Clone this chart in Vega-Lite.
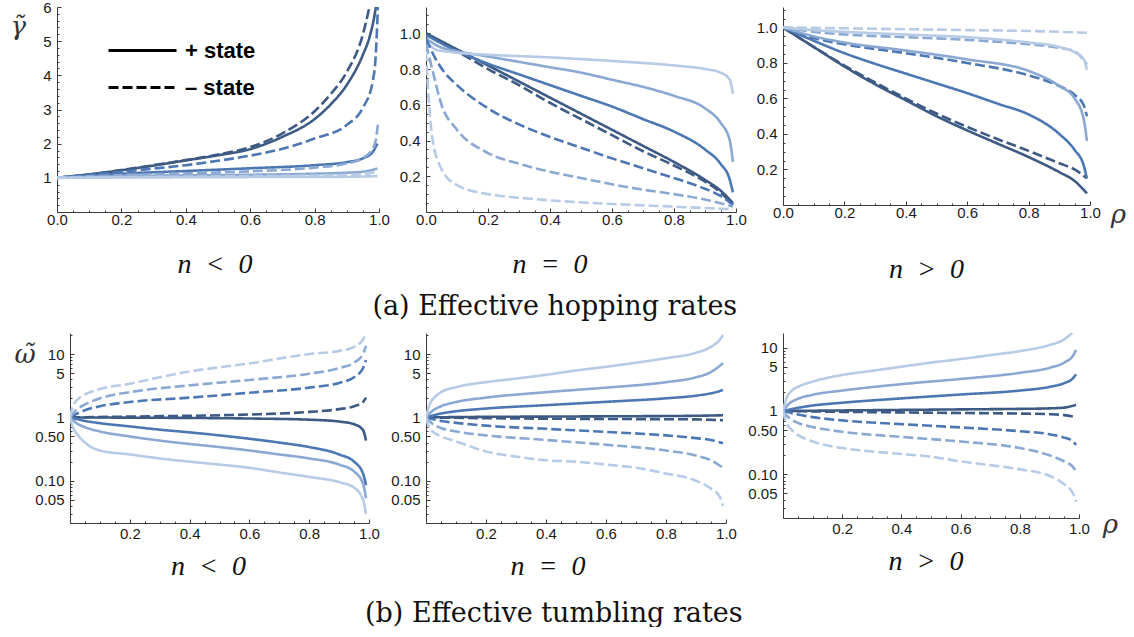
{
"$schema": "https://vega.github.io/schema/vega-lite/v6.json",
"background": "white",
"padding": {"left": 0, "top": 0, "right": 0, "bottom": 0},
"config": {
  "view": {"stroke": null},
  "axis": {"grid": false, "domainColor": "#3a3a3a", "tickColor": "#3a3a3a", "domainWidth": 1, "tickWidth": 1, "labelFont": "Liberation Sans", "labelFontSize": 15, "labelColor": "#1a1a1a", "labelOverlap": false, "labelBound": false, "labelFlush": false}
},
"datasets": {
"p1": [
{"x":0,"y":1,"s":"+","c":1},{"x":0.1,"y":1.1,"s":"+","c":1},{"x":0.2,"y":1.22,"s":"+","c":1},{"x":0.3,"y":1.36,"s":"+","c":1},{"x":0.4,"y":1.51,"s":"+","c":1},{"x":0.5,"y":1.66,"s":"+","c":1},{"x":0.6,"y":1.84,"s":"+","c":1},{"x":0.7,"y":2.2,"s":"+","c":1},{"x":0.8,"y":2.72,"s":"+","c":1},{"x":0.85,"y":3.15,"s":"+","c":1},{"x":0.9,"y":3.72,"s":"+","c":1},{"x":0.95,"y":4.6,"s":"+","c":1},{"x":0.97,"y":5.1,"s":"+","c":1},{"x":0.985,"y":5.7,"s":"+","c":1},{"x":0.995,"y":6.3,"s":"+","c":1},
{"x":0,"y":1,"s":"-","c":1},{"x":0.1,"y":1.1,"s":"-","c":1},{"x":0.2,"y":1.23,"s":"-","c":1},{"x":0.3,"y":1.37,"s":"-","c":1},{"x":0.4,"y":1.52,"s":"-","c":1},{"x":0.5,"y":1.68,"s":"-","c":1},{"x":0.6,"y":1.9,"s":"-","c":1},{"x":0.7,"y":2.3,"s":"-","c":1},{"x":0.8,"y":2.95,"s":"-","c":1},{"x":0.85,"y":3.45,"s":"-","c":1},{"x":0.9,"y":4.1,"s":"-","c":1},{"x":0.95,"y":5.2,"s":"-","c":1},{"x":0.97,"y":6.0,"s":"-","c":1},{"x":0.98,"y":6.5,"s":"-","c":1},
{"x":0,"y":1,"s":"+","c":2},{"x":0.2,"y":1.12,"s":"+","c":2},{"x":0.4,"y":1.2,"s":"+","c":2},{"x":0.6,"y":1.28,"s":"+","c":2},{"x":0.8,"y":1.37,"s":"+","c":2},{"x":0.9,"y":1.46,"s":"+","c":2},{"x":0.95,"y":1.57,"s":"+","c":2},{"x":0.98,"y":1.75,"s":"+","c":2},{"x":0.995,"y":2.0,"s":"+","c":2},
{"x":0,"y":1,"s":"-","c":2},{"x":0.1,"y":1.09,"s":"-","c":2},{"x":0.2,"y":1.18,"s":"-","c":2},{"x":0.3,"y":1.27,"s":"-","c":2},{"x":0.4,"y":1.37,"s":"-","c":2},{"x":0.5,"y":1.5,"s":"-","c":2},{"x":0.6,"y":1.65,"s":"-","c":2},{"x":0.7,"y":1.85,"s":"-","c":2},{"x":0.8,"y":2.15,"s":"-","c":2},{"x":0.9,"y":2.55,"s":"-","c":2},{"x":0.95,"y":3.05,"s":"-","c":2},{"x":0.98,"y":3.8,"s":"-","c":2},{"x":0.99,"y":4.6,"s":"-","c":2},{"x":0.997,"y":6.1,"s":"-","c":2},
{"x":0,"y":1,"s":"+","c":3},{"x":0.2,"y":1.05,"s":"+","c":3},{"x":0.4,"y":1.07,"s":"+","c":3},{"x":0.6,"y":1.09,"s":"+","c":3},{"x":0.8,"y":1.12,"s":"+","c":3},{"x":0.9,"y":1.15,"s":"+","c":3},{"x":0.95,"y":1.18,"s":"+","c":3},{"x":0.995,"y":1.27,"s":"+","c":3},
{"x":0,"y":1,"s":"-","c":3},{"x":0.2,"y":1.08,"s":"-","c":3},{"x":0.4,"y":1.13,"s":"-","c":3},{"x":0.6,"y":1.19,"s":"-","c":3},{"x":0.8,"y":1.3,"s":"-","c":3},{"x":0.9,"y":1.42,"s":"-","c":3},{"x":0.95,"y":1.58,"s":"-","c":3},{"x":0.98,"y":1.85,"s":"-","c":3},{"x":0.99,"y":2.1,"s":"-","c":3},{"x":0.997,"y":2.6,"s":"-","c":3},
{"x":0,"y":1,"s":"+","c":4},{"x":0.5,"y":1.02,"s":"+","c":4},{"x":0.9,"y":1.03,"s":"+","c":4},{"x":0.995,"y":1.05,"s":"+","c":4},
{"x":0,"y":1,"s":"-","c":4},{"x":0.2,"y":1.02,"s":"-","c":4},{"x":0.5,"y":1.04,"s":"-","c":4},{"x":0.8,"y":1.07,"s":"-","c":4},{"x":0.95,"y":1.1,"s":"-","c":4},{"x":0.995,"y":1.2,"s":"-","c":4}
],
"p2": [
{"x":0,"y":1,"s":"+","c":1},{"x":0.1,"y":0.91,"s":"+","c":1},{"x":0.2,"y":0.82,"s":"+","c":1},{"x":0.3,"y":0.73,"s":"+","c":1},{"x":0.4,"y":0.64,"s":"+","c":1},{"x":0.5,"y":0.55,"s":"+","c":1},{"x":0.6,"y":0.46,"s":"+","c":1},{"x":0.7,"y":0.37,"s":"+","c":1},{"x":0.8,"y":0.28,"s":"+","c":1},{"x":0.9,"y":0.18,"s":"+","c":1},{"x":0.95,"y":0.12,"s":"+","c":1},{"x":0.99,"y":0.05,"s":"+","c":1},
{"x":0,"y":1,"s":"-","c":1},{"x":0.1,"y":0.9,"s":"-","c":1},{"x":0.2,"y":0.8,"s":"-","c":1},{"x":0.3,"y":0.71,"s":"-","c":1},{"x":0.4,"y":0.61,"s":"-","c":1},{"x":0.5,"y":0.52,"s":"-","c":1},{"x":0.6,"y":0.43,"s":"-","c":1},{"x":0.7,"y":0.34,"s":"-","c":1},{"x":0.8,"y":0.26,"s":"-","c":1},{"x":0.9,"y":0.17,"s":"-","c":1},{"x":0.95,"y":0.11,"s":"-","c":1},{"x":0.99,"y":0.04,"s":"-","c":1},
{"x":0,"y":0.99,"s":"+","c":2},{"x":0.1,"y":0.9,"s":"+","c":2},{"x":0.2,"y":0.83,"s":"+","c":2},{"x":0.3,"y":0.77,"s":"+","c":2},{"x":0.4,"y":0.71,"s":"+","c":2},{"x":0.5,"y":0.65,"s":"+","c":2},{"x":0.6,"y":0.59,"s":"+","c":2},{"x":0.7,"y":0.52,"s":"+","c":2},{"x":0.8,"y":0.45,"s":"+","c":2},{"x":0.9,"y":0.35,"s":"+","c":2},{"x":0.95,"y":0.27,"s":"+","c":2},{"x":0.98,"y":0.18,"s":"+","c":2},{"x":0.99,"y":0.11,"s":"+","c":2},
{"x":0,"y":0.97,"s":"+","c":3},{"x":0.05,"y":0.92,"s":"+","c":3},{"x":0.1,"y":0.9,"s":"+","c":3},{"x":0.2,"y":0.87,"s":"+","c":3},{"x":0.3,"y":0.84,"s":"+","c":3},{"x":0.4,"y":0.81,"s":"+","c":3},{"x":0.5,"y":0.78,"s":"+","c":3},{"x":0.6,"y":0.74,"s":"+","c":3},{"x":0.7,"y":0.7,"s":"+","c":3},{"x":0.8,"y":0.65,"s":"+","c":3},{"x":0.9,"y":0.58,"s":"+","c":3},{"x":0.95,"y":0.5,"s":"+","c":3},{"x":0.98,"y":0.4,"s":"+","c":3},{"x":0.99,"y":0.28,"s":"+","c":3},
{"x":0,"y":0.96,"s":"+","c":4},{"x":0.03,"y":0.91,"s":"+","c":4},{"x":0.08,"y":0.895,"s":"+","c":4},{"x":0.2,"y":0.88,"s":"+","c":4},{"x":0.4,"y":0.865,"s":"+","c":4},{"x":0.6,"y":0.845,"s":"+","c":4},{"x":0.8,"y":0.82,"s":"+","c":4},{"x":0.9,"y":0.8,"s":"+","c":4},{"x":0.95,"y":0.78,"s":"+","c":4},{"x":0.98,"y":0.74,"s":"+","c":4},{"x":0.99,"y":0.66,"s":"+","c":4},
{"x":0,"y":0.97,"s":"-","c":2},{"x":0.03,"y":0.86,"s":"-","c":2},{"x":0.06,"y":0.78,"s":"-","c":2},{"x":0.1,"y":0.71,"s":"-","c":2},{"x":0.2,"y":0.58,"s":"-","c":2},{"x":0.3,"y":0.49,"s":"-","c":2},{"x":0.4,"y":0.42,"s":"-","c":2},{"x":0.5,"y":0.36,"s":"-","c":2},{"x":0.6,"y":0.3,"s":"-","c":2},{"x":0.7,"y":0.245,"s":"-","c":2},{"x":0.8,"y":0.19,"s":"-","c":2},{"x":0.9,"y":0.13,"s":"-","c":2},{"x":0.95,"y":0.09,"s":"-","c":2},{"x":0.99,"y":0.04,"s":"-","c":2},
{"x":0,"y":0.94,"s":"-","c":3},{"x":0.02,"y":0.8,"s":"-","c":3},{"x":0.05,"y":0.6,"s":"-","c":3},{"x":0.1,"y":0.46,"s":"-","c":3},{"x":0.2,"y":0.33,"s":"-","c":3},{"x":0.3,"y":0.27,"s":"-","c":3},{"x":0.4,"y":0.225,"s":"-","c":3},{"x":0.5,"y":0.19,"s":"-","c":3},{"x":0.6,"y":0.155,"s":"-","c":3},{"x":0.7,"y":0.125,"s":"-","c":3},{"x":0.8,"y":0.1,"s":"-","c":3},{"x":0.9,"y":0.07,"s":"-","c":3},{"x":0.99,"y":0.03,"s":"-","c":3},
{"x":0,"y":0.9,"s":"-","c":4},{"x":0.01,"y":0.6,"s":"-","c":4},{"x":0.02,"y":0.42,"s":"-","c":4},{"x":0.05,"y":0.24,"s":"-","c":4},{"x":0.1,"y":0.15,"s":"-","c":4},{"x":0.2,"y":0.1,"s":"-","c":4},{"x":0.3,"y":0.08,"s":"-","c":4},{"x":0.4,"y":0.065,"s":"-","c":4},{"x":0.6,"y":0.045,"s":"-","c":4},{"x":0.8,"y":0.03,"s":"-","c":4},{"x":0.99,"y":0.015,"s":"-","c":4}
],
"p3": [
{"x":0,"y":1,"s":"+","c":1},{"x":0.1,"y":0.89,"s":"+","c":1},{"x":0.2,"y":0.78,"s":"+","c":1},{"x":0.3,"y":0.68,"s":"+","c":1},{"x":0.4,"y":0.59,"s":"+","c":1},{"x":0.5,"y":0.5,"s":"+","c":1},{"x":0.6,"y":0.42,"s":"+","c":1},{"x":0.7,"y":0.345,"s":"+","c":1},{"x":0.8,"y":0.27,"s":"+","c":1},{"x":0.9,"y":0.185,"s":"+","c":1},{"x":0.95,"y":0.135,"s":"+","c":1},{"x":0.99,"y":0.065,"s":"+","c":1},
{"x":0,"y":1,"s":"-","c":1},{"x":0.1,"y":0.89,"s":"-","c":1},{"x":0.2,"y":0.785,"s":"-","c":1},{"x":0.3,"y":0.69,"s":"-","c":1},{"x":0.4,"y":0.6,"s":"-","c":1},{"x":0.5,"y":0.515,"s":"-","c":1},{"x":0.6,"y":0.44,"s":"-","c":1},{"x":0.7,"y":0.37,"s":"-","c":1},{"x":0.8,"y":0.305,"s":"-","c":1},{"x":0.9,"y":0.235,"s":"-","c":1},{"x":0.95,"y":0.2,"s":"-","c":1},{"x":0.99,"y":0.15,"s":"-","c":1},
{"x":0,"y":1,"s":"+","c":2},{"x":0.1,"y":0.925,"s":"+","c":2},{"x":0.2,"y":0.855,"s":"+","c":2},{"x":0.3,"y":0.795,"s":"+","c":2},{"x":0.4,"y":0.74,"s":"+","c":2},{"x":0.5,"y":0.685,"s":"+","c":2},{"x":0.6,"y":0.63,"s":"+","c":2},{"x":0.7,"y":0.57,"s":"+","c":2},{"x":0.8,"y":0.51,"s":"+","c":2},{"x":0.9,"y":0.4,"s":"+","c":2},{"x":0.95,"y":0.31,"s":"+","c":2},{"x":0.98,"y":0.22,"s":"+","c":2},{"x":0.99,"y":0.15,"s":"+","c":2},
{"x":0,"y":1,"s":"-","c":2},{"x":0.1,"y":0.94,"s":"-","c":2},{"x":0.2,"y":0.905,"s":"-","c":2},{"x":0.4,"y":0.855,"s":"-","c":2},{"x":0.6,"y":0.8,"s":"-","c":2},{"x":0.8,"y":0.73,"s":"-","c":2},{"x":0.9,"y":0.67,"s":"-","c":2},{"x":0.95,"y":0.62,"s":"-","c":2},{"x":0.98,"y":0.56,"s":"-","c":2},{"x":0.99,"y":0.5,"s":"-","c":2},
{"x":0,"y":1,"s":"+","c":3},{"x":0.1,"y":0.95,"s":"+","c":3},{"x":0.2,"y":0.915,"s":"+","c":3},{"x":0.4,"y":0.87,"s":"+","c":3},{"x":0.6,"y":0.82,"s":"+","c":3},{"x":0.8,"y":0.755,"s":"+","c":3},{"x":0.9,"y":0.67,"s":"+","c":3},{"x":0.95,"y":0.6,"s":"+","c":3},{"x":0.98,"y":0.48,"s":"+","c":3},{"x":0.99,"y":0.36,"s":"+","c":3},
{"x":0,"y":1,"s":"-","c":3},{"x":0.1,"y":0.975,"s":"-","c":3},{"x":0.2,"y":0.96,"s":"-","c":3},{"x":0.4,"y":0.945,"s":"-","c":3},{"x":0.6,"y":0.93,"s":"-","c":3},{"x":0.8,"y":0.905,"s":"-","c":3},{"x":0.9,"y":0.885,"s":"-","c":3},{"x":0.95,"y":0.865,"s":"-","c":3},{"x":0.99,"y":0.79,"s":"-","c":3},
{"x":0,"y":1,"s":"+","c":4},{"x":0.1,"y":0.985,"s":"+","c":4},{"x":0.2,"y":0.975,"s":"+","c":4},{"x":0.4,"y":0.96,"s":"+","c":4},{"x":0.6,"y":0.945,"s":"+","c":4},{"x":0.8,"y":0.915,"s":"+","c":4},{"x":0.9,"y":0.89,"s":"+","c":4},{"x":0.95,"y":0.86,"s":"+","c":4},{"x":0.98,"y":0.82,"s":"+","c":4},{"x":0.99,"y":0.76,"s":"+","c":4},
{"x":0,"y":1,"s":"-","c":4},{"x":0.2,"y":0.995,"s":"-","c":4},{"x":0.4,"y":0.99,"s":"-","c":4},{"x":0.6,"y":0.985,"s":"-","c":4},{"x":0.8,"y":0.98,"s":"-","c":4},{"x":0.99,"y":0.97,"s":"-","c":4}
],
"p4": [
{"x":0,"y":1,"s":"+","c":1},{"x":0.2,"y":0.99,"s":"+","c":1},{"x":0.4,"y":0.98,"s":"+","c":1},{"x":0.6,"y":0.96,"s":"+","c":1},{"x":0.8,"y":0.92,"s":"+","c":1},{"x":0.9,"y":0.86,"s":"+","c":1},{"x":0.95,"y":0.78,"s":"+","c":1},{"x":0.98,"y":0.63,"s":"+","c":1},{"x":0.99,"y":0.43,"s":"+","c":1},
{"x":0,"y":1,"s":"-","c":1},{"x":0.2,"y":1.03,"s":"-","c":1},{"x":0.4,"y":1.06,"s":"-","c":1},{"x":0.6,"y":1.11,"s":"-","c":1},{"x":0.8,"y":1.22,"s":"-","c":1},{"x":0.9,"y":1.35,"s":"-","c":1},{"x":0.95,"y":1.5,"s":"-","c":1},{"x":0.98,"y":1.75,"s":"-","c":1},{"x":0.99,"y":2.05,"s":"-","c":1},
{"x":0,"y":1,"s":"+","c":2},{"x":0.05,"y":0.88,"s":"+","c":2},{"x":0.1,"y":0.81,"s":"+","c":2},{"x":0.2,"y":0.72,"s":"+","c":2},{"x":0.3,"y":0.64,"s":"+","c":2},{"x":0.4,"y":0.58,"s":"+","c":2},{"x":0.5,"y":0.52,"s":"+","c":2},{"x":0.6,"y":0.46,"s":"+","c":2},{"x":0.7,"y":0.4,"s":"+","c":2},{"x":0.8,"y":0.34,"s":"+","c":2},{"x":0.9,"y":0.26,"s":"+","c":2},{"x":0.95,"y":0.2,"s":"+","c":2},{"x":0.98,"y":0.13,"s":"+","c":2},{"x":0.99,"y":0.085,"s":"+","c":2},
{"x":0,"y":1,"s":"-","c":2},{"x":0.05,"y":1.3,"s":"-","c":2},{"x":0.1,"y":1.5,"s":"-","c":2},{"x":0.2,"y":1.75,"s":"-","c":2},{"x":0.4,"y":2.05,"s":"-","c":2},{"x":0.6,"y":2.45,"s":"-","c":2},{"x":0.8,"y":2.95,"s":"-","c":2},{"x":0.9,"y":3.5,"s":"-","c":2},{"x":0.95,"y":4.3,"s":"-","c":2},{"x":0.98,"y":6,"s":"-","c":2},{"x":0.99,"y":8,"s":"-","c":2},
{"x":0,"y":1,"s":"+","c":3},{"x":0.02,"y":0.82,"s":"+","c":3},{"x":0.05,"y":0.7,"s":"+","c":3},{"x":0.1,"y":0.6,"s":"+","c":3},{"x":0.2,"y":0.5,"s":"+","c":3},{"x":0.3,"y":0.43,"s":"+","c":3},{"x":0.4,"y":0.38,"s":"+","c":3},{"x":0.5,"y":0.34,"s":"+","c":3},{"x":0.6,"y":0.3,"s":"+","c":3},{"x":0.7,"y":0.26,"s":"+","c":3},{"x":0.8,"y":0.225,"s":"+","c":3},{"x":0.9,"y":0.18,"s":"+","c":3},{"x":0.95,"y":0.14,"s":"+","c":3},{"x":0.98,"y":0.09,"s":"+","c":3},{"x":0.99,"y":0.053,"s":"+","c":3},
{"x":0,"y":1,"s":"-","c":3},{"x":0.02,"y":1.3,"s":"-","c":3},{"x":0.05,"y":1.6,"s":"-","c":3},{"x":0.1,"y":2.0,"s":"-","c":3},{"x":0.2,"y":2.5,"s":"-","c":3},{"x":0.4,"y":3.2,"s":"-","c":3},{"x":0.6,"y":3.9,"s":"-","c":3},{"x":0.8,"y":4.9,"s":"-","c":3},{"x":0.9,"y":6,"s":"-","c":3},{"x":0.95,"y":7.3,"s":"-","c":3},{"x":0.98,"y":10,"s":"-","c":3},{"x":0.99,"y":13.5,"s":"-","c":3},
{"x":0,"y":1,"s":"+","c":4},{"x":0.01,"y":0.7,"s":"+","c":4},{"x":0.03,"y":0.5,"s":"+","c":4},{"x":0.05,"y":0.4,"s":"+","c":4},{"x":0.1,"y":0.3,"s":"+","c":4},{"x":0.2,"y":0.26,"s":"+","c":4},{"x":0.3,"y":0.225,"s":"+","c":4},{"x":0.4,"y":0.2,"s":"+","c":4},{"x":0.5,"y":0.18,"s":"+","c":4},{"x":0.6,"y":0.16,"s":"+","c":4},{"x":0.7,"y":0.135,"s":"+","c":4},{"x":0.8,"y":0.115,"s":"+","c":4},{"x":0.9,"y":0.095,"s":"+","c":4},{"x":0.95,"y":0.078,"s":"+","c":4},{"x":0.98,"y":0.05,"s":"+","c":4},{"x":0.99,"y":0.03,"s":"+","c":4},
{"x":0,"y":1,"s":"-","c":4},{"x":0.01,"y":1.5,"s":"-","c":4},{"x":0.03,"y":2.0,"s":"-","c":4},{"x":0.05,"y":2.3,"s":"-","c":4},{"x":0.1,"y":2.8,"s":"-","c":4},{"x":0.2,"y":3.4,"s":"-","c":4},{"x":0.3,"y":4.3,"s":"-","c":4},{"x":0.4,"y":5.3,"s":"-","c":4},{"x":0.5,"y":6.2,"s":"-","c":4},{"x":0.6,"y":7.1,"s":"-","c":4},{"x":0.7,"y":8.5,"s":"-","c":4},{"x":0.8,"y":10,"s":"-","c":4},{"x":0.9,"y":11.2,"s":"-","c":4},{"x":0.95,"y":13,"s":"-","c":4},{"x":0.98,"y":17,"s":"-","c":4},{"x":0.99,"y":21,"s":"-","c":4}
],
"p5": [
{"x":0,"y":1,"s":"+","c":1},{"x":0.2,"y":1.02,"s":"+","c":1},{"x":0.4,"y":1.03,"s":"+","c":1},{"x":0.6,"y":1.04,"s":"+","c":1},{"x":0.8,"y":1.05,"s":"+","c":1},{"x":0.9,"y":1.06,"s":"+","c":1},{"x":0.99,"y":1.08,"s":"+","c":1},
{"x":0,"y":1,"s":"-","c":1},{"x":0.2,"y":0.97,"s":"-","c":1},{"x":0.4,"y":0.955,"s":"-","c":1},{"x":0.6,"y":0.945,"s":"-","c":1},{"x":0.8,"y":0.935,"s":"-","c":1},{"x":0.9,"y":0.93,"s":"-","c":1},{"x":0.99,"y":0.9,"s":"-","c":1},
{"x":0,"y":1,"s":"+","c":2},{"x":0.05,"y":1.15,"s":"+","c":2},{"x":0.1,"y":1.25,"s":"+","c":2},{"x":0.2,"y":1.38,"s":"+","c":2},{"x":0.4,"y":1.56,"s":"+","c":2},{"x":0.6,"y":1.76,"s":"+","c":2},{"x":0.8,"y":2.0,"s":"+","c":2},{"x":0.9,"y":2.2,"s":"+","c":2},{"x":0.95,"y":2.4,"s":"+","c":2},{"x":0.99,"y":2.7,"s":"+","c":2},
{"x":0,"y":1,"s":"-","c":2},{"x":0.05,"y":0.88,"s":"-","c":2},{"x":0.1,"y":0.82,"s":"-","c":2},{"x":0.2,"y":0.74,"s":"-","c":2},{"x":0.4,"y":0.66,"s":"-","c":2},{"x":0.6,"y":0.59,"s":"-","c":2},{"x":0.8,"y":0.52,"s":"-","c":2},{"x":0.9,"y":0.47,"s":"-","c":2},{"x":0.95,"y":0.44,"s":"-","c":2},{"x":0.99,"y":0.39,"s":"-","c":2},
{"x":0,"y":1,"s":"+","c":3},{"x":0.02,"y":1.25,"s":"+","c":3},{"x":0.05,"y":1.5,"s":"+","c":3},{"x":0.1,"y":1.75,"s":"+","c":3},{"x":0.2,"y":2.05,"s":"+","c":3},{"x":0.4,"y":2.5,"s":"+","c":3},{"x":0.6,"y":2.95,"s":"+","c":3},{"x":0.8,"y":3.6,"s":"+","c":3},{"x":0.9,"y":4.3,"s":"+","c":3},{"x":0.95,"y":5.2,"s":"+","c":3},{"x":0.99,"y":7.2,"s":"+","c":3},
{"x":0,"y":1,"s":"-","c":3},{"x":0.02,"y":0.8,"s":"-","c":3},{"x":0.05,"y":0.68,"s":"-","c":3},{"x":0.1,"y":0.6,"s":"-","c":3},{"x":0.2,"y":0.52,"s":"-","c":3},{"x":0.4,"y":0.44,"s":"-","c":3},{"x":0.6,"y":0.37,"s":"-","c":3},{"x":0.8,"y":0.3,"s":"-","c":3},{"x":0.9,"y":0.25,"s":"-","c":3},{"x":0.95,"y":0.21,"s":"-","c":3},{"x":0.99,"y":0.16,"s":"-","c":3},
{"x":0,"y":1,"s":"+","c":4},{"x":0.01,"y":1.5,"s":"+","c":4},{"x":0.03,"y":2.1,"s":"+","c":4},{"x":0.05,"y":2.5,"s":"+","c":4},{"x":0.1,"y":3.0,"s":"+","c":4},{"x":0.2,"y":3.6,"s":"+","c":4},{"x":0.3,"y":4.1,"s":"+","c":4},{"x":0.4,"y":4.7,"s":"+","c":4},{"x":0.5,"y":5.5,"s":"+","c":4},{"x":0.6,"y":6.3,"s":"+","c":4},{"x":0.7,"y":7.3,"s":"+","c":4},{"x":0.8,"y":8.6,"s":"+","c":4},{"x":0.9,"y":10.5,"s":"+","c":4},{"x":0.95,"y":13,"s":"+","c":4},{"x":0.98,"y":17,"s":"+","c":4},{"x":0.99,"y":20,"s":"+","c":4},
{"x":0,"y":1,"s":"-","c":4},{"x":0.01,"y":0.7,"s":"-","c":4},{"x":0.03,"y":0.56,"s":"-","c":4},{"x":0.05,"y":0.5,"s":"-","c":4},{"x":0.1,"y":0.42,"s":"-","c":4},{"x":0.2,"y":0.29,"s":"-","c":4},{"x":0.3,"y":0.24,"s":"-","c":4},{"x":0.4,"y":0.21,"s":"-","c":4},{"x":0.5,"y":0.2,"s":"-","c":4},{"x":0.6,"y":0.18,"s":"-","c":4},{"x":0.7,"y":0.16,"s":"-","c":4},{"x":0.8,"y":0.13,"s":"-","c":4},{"x":0.9,"y":0.1,"s":"-","c":4},{"x":0.95,"y":0.075,"s":"-","c":4},{"x":0.98,"y":0.055,"s":"-","c":4},{"x":0.99,"y":0.04,"s":"-","c":4}
],
"p6": [
{"x":0,"y":1,"s":"+","c":1},{"x":0.2,"y":1.02,"s":"+","c":1},{"x":0.4,"y":1.04,"s":"+","c":1},{"x":0.6,"y":1.06,"s":"+","c":1},{"x":0.8,"y":1.08,"s":"+","c":1},{"x":0.9,"y":1.1,"s":"+","c":1},{"x":0.95,"y":1.13,"s":"+","c":1},{"x":0.99,"y":1.25,"s":"+","c":1},
{"x":0,"y":1,"s":"-","c":1},{"x":0.2,"y":0.97,"s":"-","c":1},{"x":0.4,"y":0.95,"s":"-","c":1},{"x":0.6,"y":0.93,"s":"-","c":1},{"x":0.8,"y":0.91,"s":"-","c":1},{"x":0.9,"y":0.89,"s":"-","c":1},{"x":0.95,"y":0.86,"s":"-","c":1},{"x":0.99,"y":0.8,"s":"-","c":1},
{"x":0,"y":1,"s":"+","c":2},{"x":0.05,"y":1.12,"s":"+","c":2},{"x":0.1,"y":1.22,"s":"+","c":2},{"x":0.2,"y":1.35,"s":"+","c":2},{"x":0.4,"y":1.58,"s":"+","c":2},{"x":0.6,"y":1.82,"s":"+","c":2},{"x":0.8,"y":2.1,"s":"+","c":2},{"x":0.9,"y":2.4,"s":"+","c":2},{"x":0.95,"y":2.75,"s":"+","c":2},{"x":0.98,"y":3.3,"s":"+","c":2},{"x":0.99,"y":3.8,"s":"+","c":2},
{"x":0,"y":1,"s":"-","c":2},{"x":0.05,"y":0.88,"s":"-","c":2},{"x":0.1,"y":0.8,"s":"-","c":2},{"x":0.2,"y":0.71,"s":"-","c":2},{"x":0.4,"y":0.62,"s":"-","c":2},{"x":0.6,"y":0.55,"s":"-","c":2},{"x":0.8,"y":0.48,"s":"-","c":2},{"x":0.9,"y":0.43,"s":"-","c":2},{"x":0.95,"y":0.38,"s":"-","c":2},{"x":0.98,"y":0.33,"s":"-","c":2},{"x":0.99,"y":0.29,"s":"-","c":2},
{"x":0,"y":1,"s":"+","c":3},{"x":0.02,"y":1.3,"s":"+","c":3},{"x":0.05,"y":1.55,"s":"+","c":3},{"x":0.1,"y":1.8,"s":"+","c":3},{"x":0.2,"y":2.1,"s":"+","c":3},{"x":0.4,"y":2.65,"s":"+","c":3},{"x":0.6,"y":3.2,"s":"+","c":3},{"x":0.8,"y":4.0,"s":"+","c":3},{"x":0.9,"y":4.8,"s":"+","c":3},{"x":0.95,"y":5.8,"s":"+","c":3},{"x":0.98,"y":7.5,"s":"+","c":3},{"x":0.99,"y":9.2,"s":"+","c":3},
{"x":0,"y":1,"s":"-","c":3},{"x":0.02,"y":0.78,"s":"-","c":3},{"x":0.05,"y":0.65,"s":"-","c":3},{"x":0.1,"y":0.56,"s":"-","c":3},{"x":0.2,"y":0.47,"s":"-","c":3},{"x":0.4,"y":0.39,"s":"-","c":3},{"x":0.6,"y":0.33,"s":"-","c":3},{"x":0.8,"y":0.26,"s":"-","c":3},{"x":0.9,"y":0.2,"s":"-","c":3},{"x":0.95,"y":0.16,"s":"-","c":3},{"x":0.98,"y":0.13,"s":"-","c":3},{"x":0.99,"y":0.11,"s":"-","c":3},
{"x":0,"y":1,"s":"+","c":4},{"x":0.01,"y":1.5,"s":"+","c":4},{"x":0.03,"y":2.1,"s":"+","c":4},{"x":0.05,"y":2.4,"s":"+","c":4},{"x":0.1,"y":2.9,"s":"+","c":4},{"x":0.2,"y":3.7,"s":"+","c":4},{"x":0.3,"y":4.3,"s":"+","c":4},{"x":0.4,"y":5.0,"s":"+","c":4},{"x":0.5,"y":5.8,"s":"+","c":4},{"x":0.6,"y":6.6,"s":"+","c":4},{"x":0.7,"y":7.6,"s":"+","c":4},{"x":0.8,"y":8.8,"s":"+","c":4},{"x":0.9,"y":11,"s":"+","c":4},{"x":0.95,"y":13.5,"s":"+","c":4},{"x":0.98,"y":18,"s":"+","c":4},{"x":0.99,"y":21,"s":"+","c":4},
{"x":0,"y":1,"s":"-","c":4},{"x":0.01,"y":0.68,"s":"-","c":4},{"x":0.03,"y":0.5,"s":"-","c":4},{"x":0.05,"y":0.42,"s":"-","c":4},{"x":0.1,"y":0.33,"s":"-","c":4},{"x":0.2,"y":0.26,"s":"-","c":4},{"x":0.3,"y":0.23,"s":"-","c":4},{"x":0.4,"y":0.21,"s":"-","c":4},{"x":0.5,"y":0.19,"s":"-","c":4},{"x":0.6,"y":0.16,"s":"-","c":4},{"x":0.7,"y":0.14,"s":"-","c":4},{"x":0.8,"y":0.12,"s":"-","c":4},{"x":0.9,"y":0.095,"s":"-","c":4},{"x":0.95,"y":0.07,"s":"-","c":4},{"x":0.98,"y":0.05,"s":"-","c":4},{"x":0.99,"y":0.037,"s":"-","c":4}
]
},
"resolve": {"scale": {"color": "independent", "strokeDash": "independent"}, "legend": {"color": "independent", "strokeDash": "independent"}},
"columns": 1,
"spacing": 7,
"concat": [
{
 "hconcat": [
  {"width": 10, "height": 10, "data": {"values": []}, "mark": {"type": "point", "opacity": 0}},
  {
   "width": 322, "height": 205,
   "data": {"name": "p1"},
   "title": {"text": "n\u2002<\u20020", "orient": "bottom", "anchor": "middle", "frame": "group", "offset": 22, "dx": -3, "font": "Liberation Serif", "fontStyle": "italic", "fontSize": 28, "fontWeight": "normal", "color": "#111"},
   "mark": {"type": "line", "interpolate": "monotone", "strokeWidth": 2.6, "clip": true},
   "encoding": {
    "x": {"field": "x", "type": "quantitative", "scale": {"domain": [0, 1], "nice": false, "zero": false},
      "axis": {"title": null, "values": [0,0.05,0.1,0.15,0.2,0.25,0.3,0.35,0.4,0.45,0.5,0.55,0.6,0.65,0.7,0.75,0.8,0.85,0.9,0.95,1], "labelExpr": "round(datum.value*20)%4==0 ? format(datum.value,'.1f') : ''", "tickSize": {"condition": {"test": "round(datum.value*20)%4==0", "value": -4}, "value": -2}, "labelPadding": 4}},
    "y": {"field": "y", "type": "quantitative", "scale": {"domain": [0, 6], "nice": false},
      "axis": {"title": "γ̃", "titleAngle": 0, "titleAlign": "left", "titleBaseline": "middle", "titleX": -47, "titleY": 19, "titleFont": "DejaVu Serif", "titleFontStyle": "italic", "titleFontWeight": "normal", "titleFontSize": 26, "titleColor": "#333", "values": [0,0.2,0.4,0.6,0.8,1,1.2,1.4,1.6,1.8,2,2.2,2.4,2.6,2.8,3,3.2,3.4,3.6,3.8,4,4.2,4.4,4.6,4.8,5,5.2,5.4,5.6,5.8,6], "labelExpr": "abs(datum.value-round(datum.value))<0.01 && datum.value>0.5 ? format(datum.value,'d') : ''", "tickSize": {"condition": {"test": "abs(datum.value-round(datum.value))<0.01", "value": -4}, "value": -2}, "labelPadding": 10}},
    "color": {"field": "c", "type": "nominal", "scale": {"domain": [1, 2, 3, 4], "range": ["#3d5a84", "#4d77b3", "#8aa8d2", "#b7cbe6"]}, "legend": null},
    "strokeDash": {"field": "s", "type": "nominal", "scale": {"domain": ["+", "-"], "range": [[1, 0], [10, 4]]},
      "legend": {"orient": "none", "legendX": 67, "legendY": 25, "title": null, "padding": 0, "symbolType": "M-2,0H2", "symbolSize": 1156, "symbolStrokeWidth": 3, "symbolStrokeColor": "#000", "symbolFillColor": "transparent", "labelFont": "Liberation Sans", "labelFontSize": 22, "labelFontWeight": "bold", "labelColor": "#000", "labelOffset": 24, "rowPadding": 7, "labelExpr": "datum.label == '+' ? '+ state' : '\u2013 state'"}}
   }
  },
  {
   "width": 310, "height": 205,
   "data": {"name": "p2"},
   "title": {"text": "n\u2002=\u20020", "orient": "bottom", "anchor": "middle", "frame": "group", "offset": 22, "dx": -31, "font": "Liberation Serif", "fontStyle": "italic", "fontSize": 28, "fontWeight": "normal", "color": "#111"},
   "mark": {"type": "line", "interpolate": "monotone", "strokeWidth": 2.6, "clip": true},
   "encoding": {
    "x": {"field": "x", "type": "quantitative", "scale": {"domain": [0, 1], "nice": false, "zero": false},
      "axis": {"title": null, "values": [0,0.05,0.1,0.15,0.2,0.25,0.3,0.35,0.4,0.45,0.5,0.55,0.6,0.65,0.7,0.75,0.8,0.85,0.9,0.95,1], "labelExpr": "round(datum.value*20)%4==0 ? format(datum.value,'.1f') : ''", "tickSize": {"condition": {"test": "round(datum.value*20)%4==0", "value": -4}, "value": -2}, "labelPadding": 4}},
    "y": {"field": "y", "type": "quantitative", "scale": {"domain": [0, 1.147], "nice": false},
      "axis": {"title": null, "values": [0,0.05,0.1,0.15,0.2,0.25,0.3,0.35,0.4,0.45,0.5,0.55,0.6,0.65,0.7,0.75,0.8,0.85,0.9,0.95,1,1.05,1.1], "labelExpr": "round(datum.value*20)%4==0 && datum.value>0.1 ? format(datum.value,'.1f') : ''", "tickSize": {"condition": {"test": "round(datum.value*20)%4==0", "value": -4}, "value": -2}, "labelPadding": 10}},
    "color": {"field": "c", "type": "nominal", "scale": {"domain": [1, 2, 3, 4], "range": ["#3d5a84", "#4d77b3", "#8aa8d2", "#b7cbe6"]}, "legend": null},
    "strokeDash": {"field": "s", "type": "nominal", "scale": {"domain": ["+", "-"], "range": [[1, 0], [10, 4]]}, "legend": null}
   }
  },
  {
   "width": 307, "height": 198,
   "data": {"name": "p3"},
   "title": {"text": "n\u2002>\u20020", "orient": "bottom", "anchor": "middle", "frame": "group", "offset": 29, "dx": -10, "font": "Liberation Serif", "fontStyle": "italic", "fontSize": 28, "fontWeight": "normal", "color": "#111"},
   "mark": {"type": "line", "interpolate": "monotone", "strokeWidth": 2.6, "clip": true},
   "encoding": {
    "x": {"field": "x", "type": "quantitative", "scale": {"domain": [0, 1], "nice": false, "zero": false},
      "axis": {"title": "ρ", "titleX": 335, "titleY": 9, "titleAlign": "center", "titleBaseline": "middle", "titleFont": "DejaVu Serif", "titleFontStyle": "italic", "titleFontWeight": "normal", "titleFontSize": 26, "titleColor": "#333", "values": [0,0.05,0.1,0.15,0.2,0.25,0.3,0.35,0.4,0.45,0.5,0.55,0.6,0.65,0.7,0.75,0.8,0.85,0.9,0.95,1], "labelExpr": "round(datum.value*20)%4==0 ? format(datum.value,'.1f') : ''", "tickSize": {"condition": {"test": "round(datum.value*20)%4==0", "value": -4}, "value": -2}, "labelPadding": 4}},
    "y": {"field": "y", "type": "quantitative", "scale": {"domain": [0, 1.115], "nice": false},
      "axis": {"title": null, "values": [0,0.05,0.1,0.15,0.2,0.25,0.3,0.35,0.4,0.45,0.5,0.55,0.6,0.65,0.7,0.75,0.8,0.85,0.9,0.95,1,1.05,1.1], "labelExpr": "round(datum.value*20)%4==0 && datum.value>0.1 ? format(datum.value,'.1f') : ''", "tickSize": {"condition": {"test": "round(datum.value*20)%4==0", "value": -4}, "value": -2}, "labelPadding": 10}},
    "color": {"field": "c", "type": "nominal", "scale": {"domain": [1, 2, 3, 4], "range": ["#3d5a84", "#4d77b3", "#8aa8d2", "#b7cbe6"]}, "legend": null},
    "strokeDash": {"field": "s", "type": "nominal", "scale": {"domain": ["+", "-"], "range": [[1, 0], [10, 4]]}, "legend": null}
   }
  }
 ],
 "spacing": 47,
 "bounds": "flush",
 "title": {"text": "(a) Effective hopping rates", "orient": "bottom", "anchor": "middle", "frame": "bounds", "offset": 10, "dx": -8, "font": "DejaVu Serif", "fontSize": 27, "fontWeight": "normal", "color": "#111"},
 "resolve": {"scale": {"color": "independent", "strokeDash": "independent"}, "legend": {"color": "independent", "strokeDash": "independent"}}
},
{
 "hconcat": [
  {"width": 13, "height": 10, "data": {"values": []}, "mark": {"type": "point", "opacity": 0}},
  {
   "width": 299, "height": 190,
   "data": {"name": "p4"},
   "title": {"text": "n\u2002<\u20020", "orient": "bottom", "anchor": "middle", "frame": "group", "offset": 10, "dx": -11, "font": "Liberation Serif", "fontStyle": "italic", "fontSize": 28, "fontWeight": "normal", "color": "#111"},
   "mark": {"type": "line", "interpolate": "monotone", "strokeWidth": 2.6, "clip": true},
   "encoding": {
    "x": {"field": "x", "type": "quantitative", "scale": {"domain": [0, 1], "nice": false, "zero": false},
      "axis": {"title": null, "values": [0,0.05,0.1,0.15,0.2,0.25,0.3,0.35,0.4,0.45,0.5,0.55,0.6,0.65,0.7,0.75,0.8,0.85,0.9,0.95,1], "labelExpr": "round(datum.value*20)%4==0 && datum.value>0.1 ? format(datum.value,'.1f') : ''", "tickSize": {"condition": {"test": "round(datum.value*20)%4==0", "value": -4}, "value": -2}, "labelPadding": 7}},
    "y": {"field": "y", "type": "quantitative", "scale": {"type": "log", "domain": [0.0215, 21.5], "nice": false},
      "axis": {"title": "ω̃", "titleAngle": 0, "titleAlign": "left", "titleBaseline": "middle", "titleX": -56, "titleY": 21, "titleFont": "DejaVu Serif", "titleFontStyle": "italic", "titleFontWeight": "normal", "titleFontSize": 26, "titleColor": "#333", "values": [0.03,0.04,0.05,0.06,0.07,0.08,0.09,0.1,0.2,0.3,0.4,0.5,0.6,0.7,0.8,0.9,1,2,3,4,5,6,7,8,9,10,20], "labelExpr": "datum.value==0.05 ? '0.05' : datum.value==0.1 ? '0.10' : datum.value==0.5 ? '0.50' : datum.value==1 ? '1' : datum.value==5 ? '5' : datum.value==10 ? '10' : ''", "tickSize": {"condition": {"test": "indexof([0.05,0.1,0.5,1,5,10], datum.value) >= 0", "value": -4}, "value": -2}, "labelPadding": 10}},
    "color": {"field": "c", "type": "nominal", "scale": {"domain": [1, 2, 3, 4], "range": ["#3d5a84", "#4d77b3", "#8aa8d2", "#b7cbe6"]}, "legend": null},
    "strokeDash": {"field": "s", "type": "nominal", "scale": {"domain": ["+", "-"], "range": [[1, 0], [10, 4]]}, "legend": null}
   }
  },
  {
   "width": 300, "height": 190,
   "data": {"name": "p5"},
   "title": {"text": "n\u2002=\u20020", "orient": "bottom", "anchor": "middle", "frame": "group", "offset": 10, "dx": -28, "font": "Liberation Serif", "fontStyle": "italic", "fontSize": 28, "fontWeight": "normal", "color": "#111"},
   "mark": {"type": "line", "interpolate": "monotone", "strokeWidth": 2.6, "clip": true},
   "encoding": {
    "x": {"field": "x", "type": "quantitative", "scale": {"domain": [0, 1], "nice": false, "zero": false},
      "axis": {"title": null, "values": [0,0.05,0.1,0.15,0.2,0.25,0.3,0.35,0.4,0.45,0.5,0.55,0.6,0.65,0.7,0.75,0.8,0.85,0.9,0.95,1], "labelExpr": "round(datum.value*20)%4==0 && datum.value>0.1 ? format(datum.value,'.1f') : ''", "tickSize": {"condition": {"test": "round(datum.value*20)%4==0", "value": -4}, "value": -2}, "labelPadding": 7}},
    "y": {"field": "y", "type": "quantitative", "scale": {"type": "log", "domain": [0.0215, 21.5], "nice": false},
      "axis": {"title": null, "values": [0.03,0.04,0.05,0.06,0.07,0.08,0.09,0.1,0.2,0.3,0.4,0.5,0.6,0.7,0.8,0.9,1,2,3,4,5,6,7,8,9,10,20], "labelExpr": "datum.value==0.05 ? '0.05' : datum.value==0.1 ? '0.10' : datum.value==0.5 ? '0.50' : datum.value==1 ? '1' : datum.value==5 ? '5' : datum.value==10 ? '10' : ''", "tickSize": {"condition": {"test": "indexof([0.05,0.1,0.5,1,5,10], datum.value) >= 0", "value": -4}, "value": -2}, "labelPadding": 10}},
    "color": {"field": "c", "type": "nominal", "scale": {"domain": [1, 2, 3, 4], "range": ["#3d5a84", "#4d77b3", "#8aa8d2", "#b7cbe6"]}, "legend": null},
    "strokeDash": {"field": "s", "type": "nominal", "scale": {"domain": ["+", "-"], "range": [[1, 0], [10, 4]]}, "legend": null}
   }
  },
  {
   "width": 296, "height": 185,
   "data": {"name": "p6"},
   "title": {"text": "n\u2002>\u20020", "orient": "bottom", "anchor": "middle", "frame": "group", "offset": 10, "dx": -5, "font": "Liberation Serif", "fontStyle": "italic", "fontSize": 28, "fontWeight": "normal", "color": "#111"},
   "mark": {"type": "line", "interpolate": "monotone", "strokeWidth": 2.6, "clip": true},
   "encoding": {
    "x": {"field": "x", "type": "quantitative", "scale": {"domain": [0, 1], "nice": false, "zero": false},
      "axis": {"title": "ρ", "titleX": 327, "titleY": 6, "titleAlign": "center", "titleBaseline": "middle", "titleFont": "DejaVu Serif", "titleFontStyle": "italic", "titleFontWeight": "normal", "titleFontSize": 26, "titleColor": "#333", "values": [0,0.05,0.1,0.15,0.2,0.25,0.3,0.35,0.4,0.45,0.5,0.55,0.6,0.65,0.7,0.75,0.8,0.85,0.9,0.95,1], "labelExpr": "round(datum.value*20)%4==0 && datum.value>0.1 ? format(datum.value,'.1f') : ''", "tickSize": {"condition": {"test": "round(datum.value*20)%4==0", "value": -4}, "value": -2}, "labelPadding": 7}},
    "y": {"field": "y", "type": "quantitative", "scale": {"type": "log", "domain": [0.0205, 17], "nice": false},
      "axis": {"title": null, "values": [0.03,0.04,0.05,0.06,0.07,0.08,0.09,0.1,0.2,0.3,0.4,0.5,0.6,0.7,0.8,0.9,1,2,3,4,5,6,7,8,9,10], "labelExpr": "datum.value==0.05 ? '0.05' : datum.value==0.1 ? '0.10' : datum.value==0.5 ? '0.50' : datum.value==1 ? '1' : datum.value==5 ? '5' : datum.value==10 ? '10' : ''", "tickSize": {"condition": {"test": "indexof([0.05,0.1,0.5,1,5,10], datum.value) >= 0", "value": -4}, "value": -2}, "labelPadding": 10}},
    "color": {"field": "c", "type": "nominal", "scale": {"domain": [1, 2, 3, 4], "range": ["#3d5a84", "#4d77b3", "#8aa8d2", "#b7cbe6"]}, "legend": null},
    "strokeDash": {"field": "s", "type": "nominal", "scale": {"domain": ["+", "-"], "range": [[1, 0], [10, 4]]}, "legend": null}
   }
  }
 ],
 "spacing": 57,
 "bounds": "flush",
 "title": {"text": "(b) Effective tumbling rates", "orient": "bottom", "anchor": "middle", "frame": "bounds", "offset": 20, "dx": -5, "font": "DejaVu Serif", "fontSize": 27, "fontWeight": "normal", "color": "#111"},
 "resolve": {"scale": {"color": "independent", "strokeDash": "independent"}, "legend": {"color": "independent", "strokeDash": "independent"}}
}
]
}
